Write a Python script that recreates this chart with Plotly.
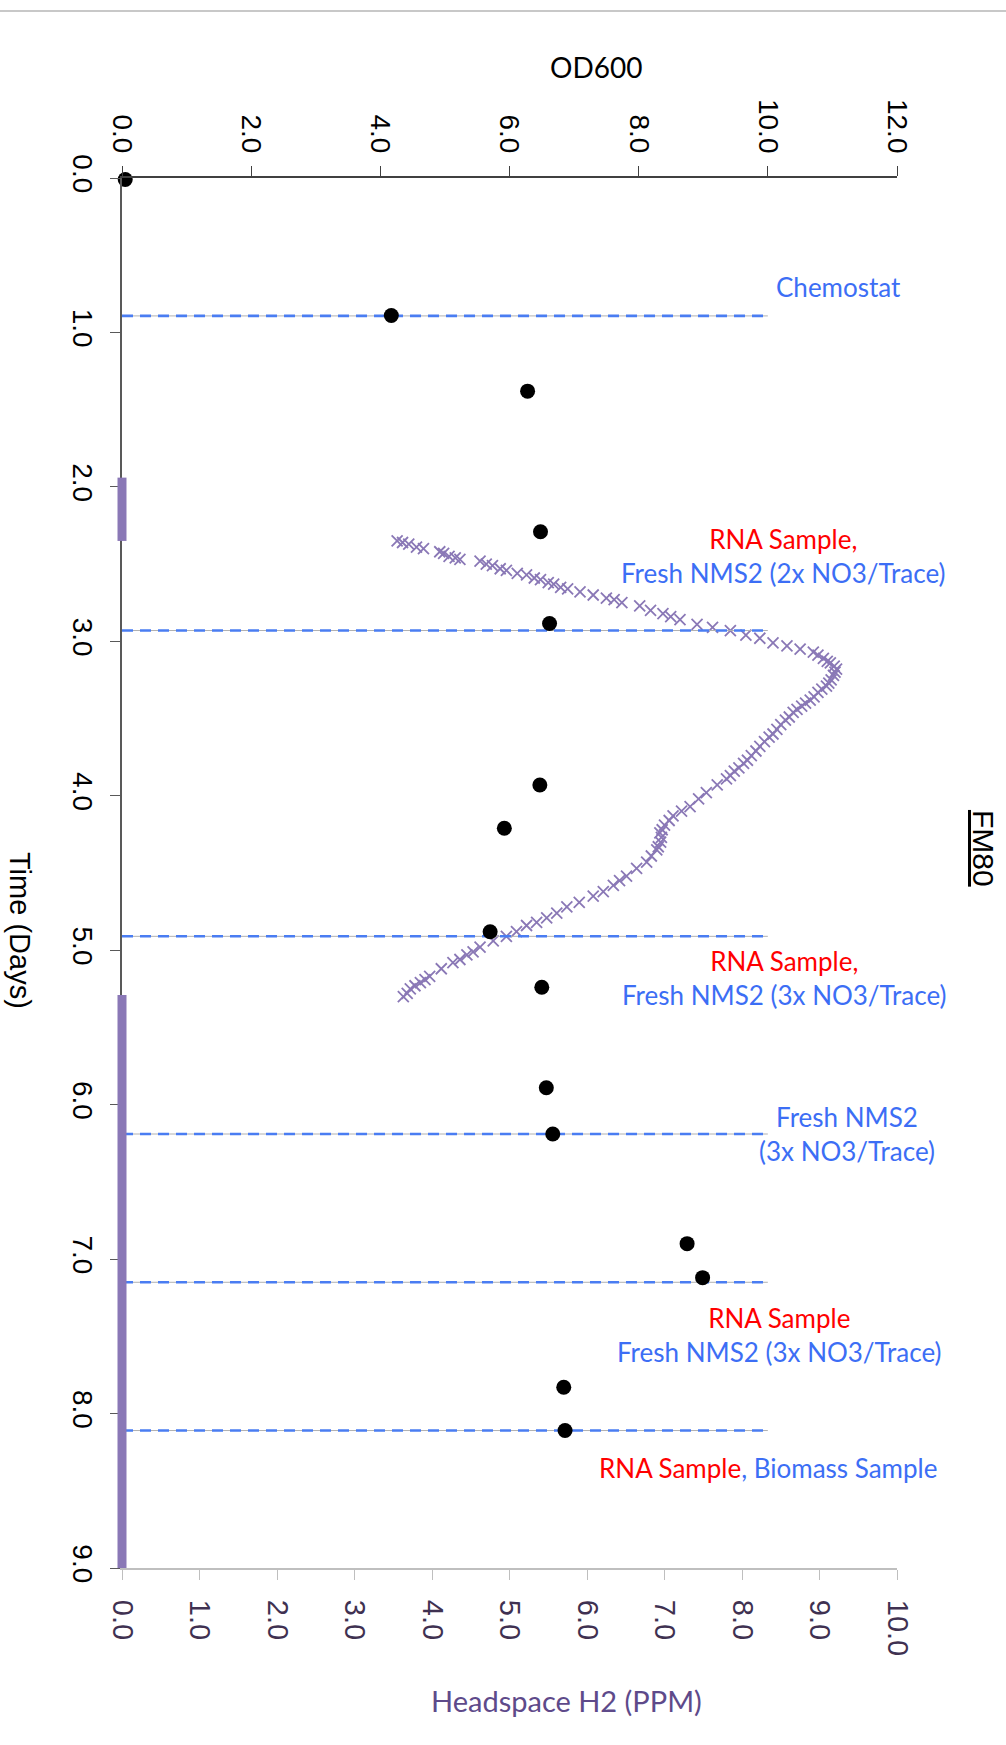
import plotly.graph_objects as go

# Time (days) of the OD600 samples and their readings
od_days = [0.01, 0.89, 1.38, 2.29, 2.885, 3.93, 4.21, 4.88, 5.24, 5.89, 6.19, 6.90, 7.12, 7.83, 8.11]
od_values = [0.05, 4.17, 6.28, 6.48, 6.62, 6.47, 5.92, 5.70, 6.50, 6.57, 6.67, 8.75, 8.99, 6.84, 6.86]

# Headspace H2 (PPM) readings during the hydrogen peak
h2_days = [2.35, 2.36, 2.37, 2.39, 2.40, 2.42, 2.43, 2.45, 2.46, 2.47, 2.48, 2.50, 2.51, 2.53,
           2.54, 2.56, 2.57, 2.59, 2.60, 2.62, 2.63, 2.65, 2.66, 2.68, 2.70, 2.72, 2.73, 2.75,
           2.77, 2.80, 2.82, 2.84, 2.86, 2.89, 2.91, 2.93, 2.96, 2.98, 3.01, 3.03, 3.05, 3.07,
           3.09, 3.11, 3.13, 3.14, 3.16, 3.18, 3.20, 3.22, 3.25, 3.27, 3.29, 3.31, 3.33, 3.36,
           3.38, 3.40, 3.42, 3.44, 3.46, 3.49, 3.51, 3.54, 3.57, 3.60, 3.62, 3.65, 3.68, 3.71,
           3.74, 3.77, 3.79, 3.82, 3.84, 3.87, 3.89, 3.93, 3.98, 4.02, 4.07, 4.10, 4.13, 4.16,
           4.19, 4.22, 4.24, 4.27, 4.30, 4.33, 4.35, 4.39, 4.43, 4.47, 4.52, 4.55, 4.58, 4.62,
           4.65, 4.69, 4.72, 4.76, 4.79, 4.82, 4.84, 4.88, 4.91, 4.94, 4.98, 5.01, 5.03, 5.06,
           5.08, 5.12, 5.17, 5.19, 5.21, 5.23, 5.25, 5.28, 5.30]
h2_ppm = [3.55, 3.62, 3.70, 3.80, 3.89, 4.10, 4.15, 4.22, 4.30, 4.36, 4.62, 4.70, 4.78, 4.88,
          4.96, 5.10, 5.22, 5.32, 5.40, 5.50, 5.57, 5.66, 5.75, 5.91, 6.08, 6.25, 6.35, 6.45,
          6.68, 6.82, 6.98, 7.08, 7.20, 7.42, 7.62, 7.85, 8.05, 8.23, 8.40, 8.58, 8.75, 8.92,
          8.98, 9.05, 9.10, 9.14, 9.19, 9.22, 9.20, 9.18, 9.15, 9.12, 9.09, 9.03, 8.98, 8.93,
          8.88, 8.82, 8.77, 8.71, 8.66, 8.61, 8.56, 8.50, 8.45, 8.40, 8.35, 8.29, 8.23, 8.18,
          8.12, 8.07, 8.02, 7.96, 7.90, 7.85, 7.80, 7.68, 7.54, 7.44, 7.33, 7.22, 7.11, 7.06,
          7.00, 6.97, 6.94, 6.96, 6.95, 6.92, 6.90, 6.83, 6.77, 6.64, 6.51, 6.42, 6.34, 6.21,
          6.08, 5.90, 5.74, 5.61, 5.48, 5.35, 5.22, 5.09, 4.96, 4.79, 4.62, 4.53, 4.45, 4.36,
          4.27, 4.12, 3.97, 3.91, 3.85, 3.78, 3.72, 3.68, 3.63]

# Periods when headspace H2 read zero (start day, end day)
h2_zero_runs = [(1.94, 2.35), (5.29, 9.00)]

# Culture events marked across the chart (day)
event_days = [0.893, 2.93, 4.91, 6.19, 7.15, 8.11]
event_line_od_end = 10.0

# Event captions: (red part, blue part, H2 x-position, day position)
RED = "#ff0000"
BLUE = "#3c6ef5"
event_labels = [
    ("", "Chemostat", 9.25, 0.705),
    ("RNA Sample,", "Fresh NMS2 (2x NO3/Trace)", 8.53, 2.45),
    ("RNA Sample,", "Fresh NMS2 (3x NO3/Trace)", 8.55, 5.18),
    ("", "Fresh NMS2<br>(3x NO3/Trace)", 9.35, 6.19),
    ("RNA Sample", "Fresh NMS2 (3x NO3/Trace)", 8.49, 7.49),
]

day_ticks = [0, 1, 2, 3, 4, 5, 6, 7, 8, 9]
od_ticks = [0, 2, 4, 6, 8, 10, 12]
h2_ticks = [0, 1, 2, 3, 4, 5, 6, 7, 8, 9, 10]

PURPLE = "#8a78b6"
TICK_FONT = "Liberation Sans, Arial, sans-serif"
LABEL_FONT = "Lato, Open Sans, sans-serif"

fig = go.Figure()

# event lines: thin grey base with blue dashes on top, drawn on the OD600 axis
for d in event_days:
    fig.add_trace(go.Scatter(x=[0, event_line_od_end], y=[d, d], xaxis="x2", yaxis="y",
                             mode="lines", line=dict(color="#b0b0b0", width=1),
                             hoverinfo="skip", showlegend=False))
    fig.add_trace(go.Scatter(x=[0, event_line_od_end], y=[d, d], xaxis="x2", yaxis="y",
                             mode="lines", line=dict(color="#4a7df2", width=2.6, dash="11px,7px"),
                             hoverinfo="skip", showlegend=False))

# H2 peak
fig.add_trace(go.Scatter(x=h2_ppm, y=h2_days, xaxis="x", yaxis="y", mode="markers",
                         marker=dict(symbol="x-thin", size=11,
                                     line=dict(color=PURPLE, width=1.8)),
                         cliponaxis=False, name="Headspace H2", showlegend=False))

# OD600
fig.add_trace(go.Scatter(x=od_values, y=od_days, xaxis="x2", yaxis="y", mode="markers",
                         marker=dict(symbol="circle", size=15, color="black"),
                         cliponaxis=False, name="OD600", showlegend=False))

# zero-H2 stretches: dense markers piled on the H2 = 0 line, straddling the axis
shapes = [dict(type="line", xref="paper", yref="paper",
               x0=-0.2, x1=1.2, y0=1.1201, y1=1.1201,
               line=dict(color="#c8c8c8", width=2))]
for start, end in h2_zero_runs:
    shapes.append(dict(type="line", xref="paper", yref="y", x0=0, x1=0, y0=start, y1=end,
                       layer="above", line=dict(color=PURPLE, width=9)))

annotations = []
for red, blue, xpos, day in event_labels:
    if red:
        text = f"<span style='color:{RED}'>{red}</span><br><span style='color:{BLUE}'>{blue}</span>"
    else:
        text = f"<span style='color:{BLUE}'>{blue}</span>"
    annotations.append(dict(x=xpos, y=day, xref="x", yref="y", text=text, showarrow=False,
                            xanchor="center", yanchor="middle", align="center",
                            font=dict(family=LABEL_FONT, size=26, color=BLUE)))

annotations.append(dict(x=8.34, y=8.35, xref="x", yref="y",
                        text=f"<span style='color:{RED}'>RNA Sample</span>"
                             f"<span style='color:{BLUE}'>, Biomass Sample</span>",
                        showarrow=False, xanchor="center", yanchor="middle",
                        font=dict(family=LABEL_FONT, size=26, color=BLUE)))

# axis titles and chart title
annotations.append(dict(x=0.6116, y=1.0799, xref="paper", yref="paper", text="OD600",
                        showarrow=False, xanchor="center", yanchor="middle",
                        font=dict(family=LABEL_FONT, size=28, color="black")))
annotations.append(dict(x=0.574, y=-0.095, xref="paper", yref="paper",
                        text="Headspace H2 (PPM)", showarrow=False,
                        xanchor="center", yanchor="middle",
                        font=dict(family=LABEL_FONT, size=29, color="#5e4a8a")))
annotations.append(dict(x=-0.1316, y=0.459, xref="paper", yref="paper", text="Time (Days)",
                        textangle=90, showarrow=False, xanchor="center", yanchor="middle",
                        font=dict(family=TICK_FONT, size=29, color="black")))
annotations.append(dict(x=1.111, y=0.518, xref="paper", yref="paper", text="<u>FM80</u>",
                        textangle=90, showarrow=False, xanchor="center", yanchor="middle",
                        font=dict(family=TICK_FONT, size=30, color="black")))

fig.update_layout(
    width=1006, height=1745,
    margin=dict(l=122, r=109, t=178, b=177, autoexpand=False),
    paper_bgcolor="white", plot_bgcolor="white",
    annotations=annotations,
    shapes=shapes,
    yaxis=dict(range=[9, 0], tickvals=day_ticks, ticktext=[f"{v:.1f}" for v in day_ticks],
               tickangle=90, ticks="outside", ticklen=10, tickcolor="#595959",
               showline=True, linecolor="#595959", linewidth=1.5, showgrid=False,
               zeroline=False, tickfont=dict(family=TICK_FONT, size=28, color="black"),
               ticklabelstandoff=4),
    xaxis=dict(range=[0, 10], tickvals=h2_ticks, ticktext=[f"{v:.1f}" for v in h2_ticks],
               tickangle=90, ticks="outside", ticklen=10, tickcolor="#bfbfbf",
               showline=True, linecolor="#bfbfbf", linewidth=2, showgrid=False,
               zeroline=False, tickfont=dict(family=TICK_FONT, size=29, color="#3f3151"),
               ticklabelstandoff=14),
    xaxis2=dict(range=[0, 12], tickvals=od_ticks, ticktext=[f"{v:.1f}" for v in od_ticks],
                overlaying="x", side="top", anchor="y",
                tickangle=90, ticks="outside", ticklen=10, tickcolor="#404040",
                showline=True, linecolor="#404040", linewidth=1.5, showgrid=False,
                zeroline=False, tickfont=dict(family=TICK_FONT, size=28, color="black"),
                ticklabelstandoff=3),
)

fig.write_html("out.html")
